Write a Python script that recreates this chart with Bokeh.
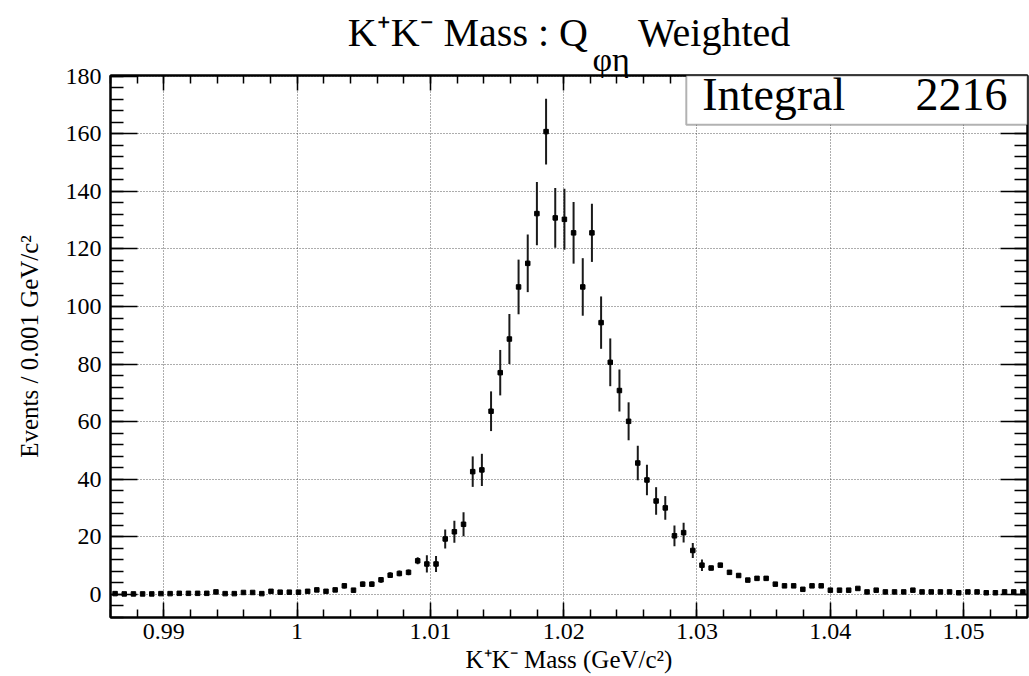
import numpy as np
from bokeh.plotting import figure
from bokeh.models import (Range1d, LinearAxis, FixedTicker, Label, BoxAnnotation, Title,
                          ColumnDataSource, CustomJSTickFormatter)
from bokeh.embed import file_html
from bokeh.resources import INLINE

# ---------------- data ----------------
x_lo, x_hi = 0.986, 1.0548
n_bins = 100
counts = [0.2, 0.1, 0.1, 0.1, 0.1, 0.2, 0.2, 0.3, 0.3, 0.3,
          0.3, 0.8, 0.2, 0.2, 0.6, 0.6, 0.2, 1.0, 0.7, 0.7,
          0.7, 1.0, 1.5, 1.0, 1.5, 2.9, 1.4, 3.5, 3.5, 5.0,
          6.6, 7.2, 7.6, 11.6, 10.5, 10.5, 19.2, 21.7, 24.3, 42.6,
          43.2, 63.6, 77.0, 88.7, 106.8, 115.0, 132.3, 160.8, 130.8, 130.3,
          125.6, 106.8, 125.6, 94.4, 80.6, 70.8, 60.1, 45.6, 39.7, 32.4,
          30.0, 20.3, 21.4, 15.2, 10.1, 9.1, 10.1, 7.6, 6.5, 4.9,
          5.5, 5.5, 3.5, 2.9, 2.9, 1.7, 2.9, 2.9, 1.4, 1.4,
          1.4, 2.0, 0.8, 1.4, 0.8, 0.8, 0.8, 1.4, 0.8, 0.8,
          0.8, 0.8, 0.5, 0.8, 0.8, 0.5, 0.5, 0.8, 0.8, 0.8]
errors = [0.2, 0.1, 0.1, 0.1, 0.1, 0.2, 0.2, 0.3, 0.3, 0.3,
          0.3, 0.5, 0.2, 0.2, 0.4, 0.4, 0.2, 0.6, 0.5, 0.5,
          0.5, 0.6, 0.7, 0.6, 0.7, 0.9, 0.7, 0.9, 0.9, 1.0,
          1.0, 1.0, 1.0, 1.2, 3.0, 2.8, 3.3, 3.8, 4.2, 5.3,
          5.6, 6.9, 7.9, 8.7, 9.5, 10.0, 11.0, 11.4, 10.4, 10.6,
          10.7, 10.0, 10.1, 9.1, 8.3, 7.3, 6.6, 6.0, 5.3, 4.8,
          4.1, 3.6, 3.4, 2.6, 2.0, 0.8, 0.8, 0.8, 0.7, 0.7,
          0.7, 0.7, 0.6, 0.6, 0.6, 0.5, 0.6, 0.6, 0.5, 0.5,
          0.5, 0.5, 0.4, 0.5, 0.4, 0.4, 0.4, 0.5, 0.4, 0.4,
          0.4, 0.4, 0.3, 0.4, 0.4, 0.3, 0.3, 0.4, 0.4, 0.4]
x_tick_vals = [0.99, 1.00, 1.01, 1.02, 1.03, 1.04, 1.05]
x_tick_labels = ["0.99", "1", "1.01", "1.02", "1.03", "1.04", "1.05"]
y_tick_vals = [0, 20, 40, 60, 80, 100, 120, 140, 160, 180]
y_tick_labels = ["0", "20", "40", "60", "80", "100", "120", "140", "160", "180"]
integral_text = "2216"
title_main = "K\u207aK\u207b Mass : Q\u00a0\u00a0\u00a0\u00a0\u00a0Weighted"
title_sub = "\u03c6\u03b7"
x_title = "K\u207aK\u207b Mass (GeV/c\u00b2)"
y_title = "Events / 0.001 GeV/c\u00b2"

# ---------------- derived ----------------
width_bin = (x_hi - x_lo) / n_bins
centers = [x_lo + (i + 0.5) * width_bin for i in range(n_bins)]
src = ColumnDataSource(dict(
    x=centers, y=counts,
    lo=[c - e for c, e in zip(counts, errors)],
    hi=[c + e for c, e in zip(counts, errors)],
))

y_lo, y_hi = -8.1, 180.3
SERIF = "Liberation Serif"

p = figure(width=1029, height=676, x_range=Range1d(x_lo, x_hi), y_range=Range1d(y_lo, y_hi),
           output_backend="svg", toolbar_location=None,
           min_border_left=110, min_border_right=2, min_border_top=75, min_border_bottom=59,
           background_fill_color="white", border_fill_color="white")
p.outline_line_color = "black"
p.outline_line_width = 2

x_minor = list(np.round(np.arange(0.986, 1.0549, 0.002), 4))
y_minor = list(range(-8, 181, 4))
xt = FixedTicker(ticks=x_tick_vals, minor_ticks=x_minor)
yt = FixedTicker(ticks=y_tick_vals, minor_ticks=y_minor)

xa = p.xaxis[0]
xa.ticker = xt
xa.major_label_overrides = {v: s for v, s in zip(x_tick_vals, x_tick_labels)}
ya = p.yaxis[0]
ya.ticker = yt
ya.major_label_overrides = {v: s for v, s in zip(y_tick_vals, y_tick_labels)}

for ax, tin, mtin in [(xa, 15, 8), (ya, 27, 13)]:
    ax.major_tick_in = tin
    ax.major_tick_out = 0
    ax.minor_tick_in = mtin
    ax.minor_tick_out = 0
    ax.major_tick_line_width = 1.5
    ax.minor_tick_line_width = 1.5
    ax.axis_line_width = 2
    ax.major_label_text_font = SERIF
    ax.major_label_text_font_size = "24px"
    ax.major_label_text_color = "black"

xa.major_label_standoff = 6
ya.major_label_standoff = 9
ya.axis_label = y_title
ya.axis_label_standoff = 20
ya.axis_label_text_font = SERIF
ya.axis_label_text_font_size = "25px"
ya.axis_label_text_font_style = "normal"
ya.axis_label_text_color = "black"

for loc, tk, tin, mtin in [("above", xt, 15, 8), ("right", yt, 27, 13)]:
    ax = LinearAxis(ticker=tk, major_tick_in=tin, major_tick_out=0, minor_tick_in=mtin,
                    minor_tick_out=0, major_tick_line_width=1.5, minor_tick_line_width=1.5,
                    axis_line_width=2, major_label_text_font_size="0px", major_label_standoff=0,
                    formatter=CustomJSTickFormatter(code="return ''"))
    p.add_layout(ax, loc)

for g, tk in [(p.xgrid[0], xt), (p.ygrid[0], yt)]:
    g.ticker = tk
    g.grid_line_color = "#333333"
    g.grid_line_alpha = 0.8
    g.grid_line_dash = "1 2"
    g.grid_line_width = 1

# data
p.segment(x0="x", y0="lo", x1="x", y1="hi", source=src, line_color="#1a1a1a", line_width=2)
p.scatter(x="x", y="y", source=src, marker="square", size=4.5, color="black")

# stats box
box = BoxAnnotation(left=1.0292, right=x_hi, bottom=163.2, top=y_hi,
                    fill_color="white", fill_alpha=1.0, line_color="black", line_width=2,
                    level="annotation")
p.add_layout(box)
p.add_layout(Label(x=1.0304, y=173.8, text="Integral", text_font=SERIF, text_font_size="46px",
                   text_align="left", text_baseline="alphabetic", text_color="black"))
p.add_layout(Label(x=1.0533, y=173.8, text=integral_text, text_font=SERIF, text_font_size="46px",
                   text_align="right", text_baseline="alphabetic", text_color="black"))

# title (two rows in the top panel)
t_sub = Title(text=title_sub, align="left", offset=482, text_font=SERIF, text_font_size="34px",
              text_font_style="normal", text_color="black", standoff=-4, vertical_align="bottom")
t_main = Title(text=title_main, align="center", text_font=SERIF, text_font_size="40px",
               text_font_style="normal", text_color="black", standoff=-28, vertical_align="bottom")
p.add_layout(t_sub, "above")
p.add_layout(t_main, "above")

# x-axis title as a row under the axis
t_x = Title(text=x_title, align="center", text_font=SERIF, text_font_size="25px",
            text_font_style="normal", text_color="black", standoff=4, vertical_align="bottom")
p.add_layout(t_x, "below")

open("out.html", "w").write(file_html(p, INLINE))
